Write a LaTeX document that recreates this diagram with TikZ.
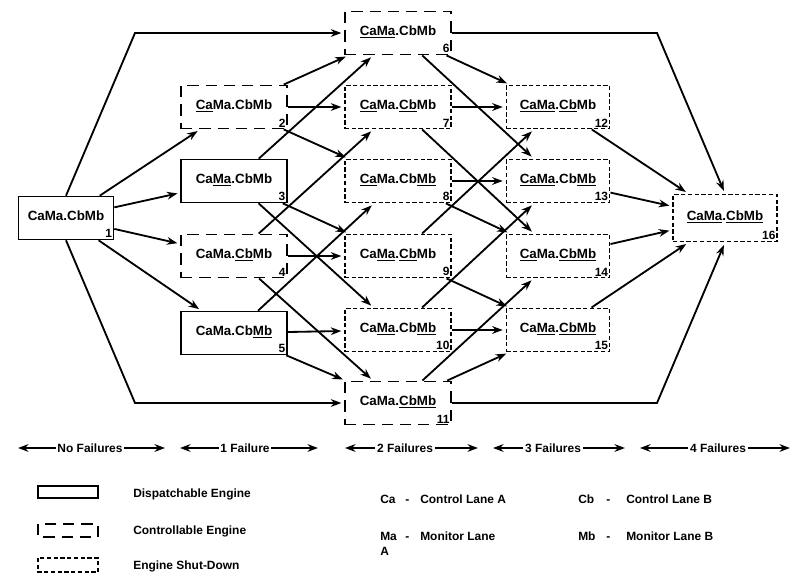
\documentclass[tikz,border=0pt]{standalone}
\usepackage{fontspec}
\setmainfont{Liberation Sans}
\usetikzlibrary{arrows.meta}

\begin{document}
\begin{tikzpicture}[x=0.025cm, y=-0.025cm, >={Stealth[length=7.5pt,width=5.5pt]},
    state/.style={rectangle, minimum width=2.65cm, minimum height=1.08cm, inner sep=0pt,
      font=\bfseries\fontsize{9.5}{10}\selectfont, text height=7pt, text depth=4pt, line width=1.2pt},
    dispbox/.style={state, draw, line width=1pt},
    ctrlbox/.style={state, draw, dash pattern=on 8pt off 5pt},
    offbox/.style={state, draw, dash pattern=on 3pt off 1.8pt},
    stateno/.style={label={[font=\bfseries\fontsize{8.5}{9}\selectfont, anchor=south east, inner sep=1.5pt]south east:#1}},
    flow/.style={->, line width=1.3pt, shorten >=2pt},
    legtext/.style={anchor=base west, inner sep=0pt, font=\bfseries\fontsize{8.5}{9}\selectfont}]
  \useasboundingbox (0,0) rectangle (803,576);

  % No failures
  \node[dispbox, minimum width=2.38cm, stateno=1] (n1) at (66,218) {CaMa.CbMb};

  % One failure
  \node[ctrlbox, stateno=2] (n2) at (234,107) {\underline{Ca}Ma.CbMb};
  \node[dispbox, stateno=3] (n3) at (234,181) {Ca\underline{Ma}.CbMb};
  \node[ctrlbox, stateno=4] (n4) at (234,256) {CaMa.\underline{Cb}Mb};
  \node[dispbox, stateno=5] (n5) at (234,333) {CaMa.Cb\underline{Mb}};

  % Two failures
  \node[ctrlbox, stateno=6] (n6) at (398,33) {\underline{CaMa}.CbMb};
  \node[offbox, stateno=7] (n7) at (398,107) {\underline{Ca}Ma.\underline{Cb}Mb};
  \node[offbox, stateno=8] (n8) at (398,181) {\underline{Ca}Ma.Cb\underline{Mb}};
  \node[offbox, stateno=9] (n9) at (398,256) {Ca\underline{Ma}.\underline{Cb}Mb};
  \node[offbox, stateno=10] (n10) at (398,330) {Ca\underline{Ma}.Cb\underline{Mb}};
  \node[ctrlbox, stateno=11] (n11) at (398,403) {CaMa.\underline{CbMb}};

  % Three failures
  \node[offbox, minimum width=2.58cm, stateno=12] (n12) at (558,107) {\underline{CaMa}.\underline{Cb}Mb};
  \node[offbox, minimum width=2.58cm, stateno=13] (n13) at (558,181) {\underline{CaMa}.Cb\underline{Mb}};
  \node[offbox, minimum width=2.58cm, stateno=14] (n14) at (558,256) {\underline{Ca}Ma.\underline{CbMb}};
  \node[offbox, minimum width=2.58cm, stateno=15] (n15) at (558,330) {Ca\underline{Ma}.\underline{CbMb}};

  % Four failures
  \node[offbox, minimum width=2.6cm, minimum height=1.18cm, stateno=16] (n16) at (725,218) {\underline{CaMa}.\underline{CbMb}};

  % Transitions
  \foreach \a/\b in {n1/n2, n1/n3, n1/n4, n1/n5,
      n2/n6, n2/n7, n2/n8, n3/n6, n3/n9, n3/n10,
      n4/n7, n4/n9, n4/n11, n5/n8, n5/n10, n5/n11,
      n6/n12, n6/n13, n7/n12, n7/n14, n8/n13, n8/n14,
      n9/n12, n9/n15, n10/n13, n10/n15, n11/n14, n11/n15,
      n12/n16, n13/n16, n14/n16, n15/n16}
    \draw[flow] (\a) -- (\b);

  % Double-failure jumps round the outside
  \coordinate (tl) at (135,33);
  \coordinate (bl) at (135,403);
  \coordinate (tr) at (657,33);
  \coordinate (br) at (657,403);
  \draw[flow] (n1.north) -- (tl) -- (n6);
  \draw[flow] (n1.south) -- (bl) -- (n11);
  \draw[flow] (n6) -- (tr) -- (n16.north);
  \draw[flow] (n11) -- (br) -- (n16.south);

  % Failure count ranges
  \foreach \id/\txt/\xm/\xl/\xr in {r0/No Failures/90/18/165, r1/1 Failure/245/180/318,
      r2/2 Failures/405/345/478, r3/3 Failures/553/493/625, r4/4 Failures/718/640/790} {
    \node[font=\bfseries\fontsize{8.5}{9}\selectfont, inner sep=1pt] (\id) at (\xm,448) {\txt};
    \coordinate (\id l) at (\xl,448);
    \coordinate (\id r) at (\xr,448);
    \draw[->, line width=1pt] (\id) -- (\id l);
    \draw[->, line width=1pt] (\id) -- (\id r);
  }

  % Legend
  \draw[line width=1pt] (38,486) rectangle (98,498);
  \draw[line width=1.2pt, dash pattern=on 8pt off 5pt] (38,524) rectangle (98,537);
  \draw[line width=1.2pt, dash pattern=on 3pt off 1.8pt] (38,558) rectangle (98,572);
  \node[legtext] (ld) at (133,497) {Dispatchable Engine};
  \node[legtext] (lc) at (133,534) {Controllable Engine};
  \node[legtext] (ls) at (133,569) {Engine Shut-Down};

  \node[legtext] (ca) at (380,503) {Ca};
  \node[legtext] (cad) at (405,503) {-};
  \node[legtext] (cat) at (420,503) {Control Lane A};
  \node[legtext] (ma) at (380,540) {Ma};
  \node[legtext] (mad) at (405,540) {-};
  \node[legtext] (mat) at (420,540) {Monitor Lane};
  \node[legtext] (maa) at (380,555) {A};
  \node[legtext] (cb) at (578,503) {Cb};
  \node[legtext] (cbd) at (606,503) {-};
  \node[legtext] (cbt) at (626,503) {Control Lane B};
  \node[legtext] (mb) at (578,540) {Mb};
  \node[legtext] (mbd) at (606,540) {-};
  \node[legtext] (mbt) at (626,540) {Monitor Lane B};
\end{tikzpicture}
\end{document}
